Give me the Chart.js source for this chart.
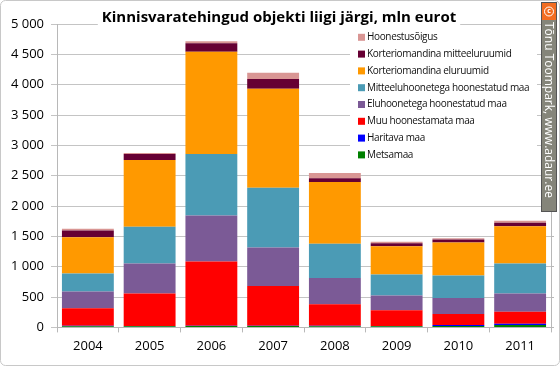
<!DOCTYPE html>
<html>
<head>
<meta charset="utf-8">
<script src="https://cdn.jsdelivr.net/npm/chart.js@4/dist/chart.umd.min.js"></script>
<style>
    html, body { margin: 0; padding: 0; background: #fff; }
    #wrap { width: 560px; height: 366px; position: relative; }
</style>
</head>
<body>
<div id="wrap"><canvas id="chart" width="560" height="366"></canvas></div>
<script>

/*
=================================
DATA
=================================
*/

const years = ["2004", "2005", "2006", "2007", "2008", "2009", "2010", "2011"];

const metsamaa          = [20, 18, 22, 22, 20, 20, 25, 40];
const haritavaMaa       = [8, 5, 6, 6, 6, 5, 15, 20];
const muuHoonestamata   = [286, 534, 1057, 656, 354, 256, 181, 199];
const eluhoonetega      = [276, 495, 760, 633, 436, 243, 264, 298];
const mitteeluhoonetega = [297, 606, 1013, 986, 562, 347, 369, 495];
const kortEluruumid     = [600, 1101, 1685, 1629, 1018, 467, 545, 617];
const kortMitteelu      = [110, 99, 139, 160, 61, 50, 50, 55];
const hoonestusoigus    = [28, 17, 33, 104, 88, 22, 21, 33];

const yTicks = [0, 500, 1000, 1500, 2000, 2500, 3000, 3500, 4000, 4500, 5000];

const titleText = "Kinnisvaratehingud objekti liigi järgi, mln eurot";
const creditText = "Tõnu Toompark, www.adaur.ee";

const FONT = "'Open Sans', sans-serif";

function fmt(v){
    return String(v).replace(/\B(?=(\d{3})+(?!\d))/g, " ");
}

/*
=================================
PLUGINS
=================================
*/

const frame = {
    id: "frame",
    beforeDraw(chart){
        const ctx = chart.ctx;
        ctx.save();
        ctx.fillStyle = "#fff";
        ctx.fillRect(0, 0, chart.width, chart.height);
        ctx.strokeStyle = "#c8c8c8";
        ctx.lineWidth = 1;
        ctx.beginPath();
        ctx.roundRect(0.5, 0.5, chart.width - 1, chart.height - 1, 5);
        ctx.stroke();
        ctx.restore();
    }
};

const overlay = {
    id: "overlay",
    afterDraw(chart){
        const ctx = chart.ctx;
        ctx.save();

        // title
        ctx.font = "bold 15px " + FONT;
        const tw = ctx.measureText(titleText).width;
        const tx = 279;
        ctx.fillStyle = "#fff";
        ctx.fillRect(tx - tw / 2 - 4, 4, tw + 8, 26);
        ctx.fillStyle = "#000";
        ctx.textAlign = "center";
        ctx.textBaseline = "middle";
        ctx.fillText(titleText, tx, 17.5);

        // legend (top of stack first)
        const items = chart.data.datasets.slice().reverse();
        ctx.fillStyle = "#fff";
        ctx.fillRect(350, 29, 187, 136);
        ctx.font = "10px " + FONT;
        ctx.letterSpacing = "-0.35px";
        ctx.textAlign = "left";
        items.forEach((ds, i) => {
            const y = 37.3 + i * 16.8;
            ctx.fillStyle = ds.backgroundColor;
            ctx.fillRect(358, y - 3.5, 7, 7);
            ctx.fillStyle = "#111";
            ctx.fillText(ds.label, 367, y);
        });
        ctx.letterSpacing = "0px";

        // credit box
        ctx.fillStyle = "#85857a";
        ctx.fillRect(541.5, 2.5, 15, 209);
        ctx.strokeStyle = "#555";
        ctx.lineWidth = 1;
        ctx.strokeRect(541.5, 2.5, 15, 209);
        ctx.fillStyle = "#f26d21";
        ctx.fillRect(542, 3, 14, 17);
        ctx.strokeStyle = "#fff";
        ctx.beginPath();
        ctx.arc(549, 11.5, 4.5, 0, Math.PI * 2);
        ctx.stroke();
        ctx.fillStyle = "#fff";
        ctx.font = "bold 7px " + FONT;
        ctx.textAlign = "center";
        ctx.fillText("c", 549, 11);
        ctx.translate(549, 22);
        ctx.rotate(Math.PI / 2);
        ctx.font = "12px " + FONT;
        ctx.textAlign = "left";
        ctx.fillStyle = "#fff";
        ctx.fillText(creditText, 0, 0.5);
        ctx.restore();
    }
};

/*
=================================
CHART
=================================
*/

function makeSet(label, data, color){
    return {
        label: label,
        data: data,
        backgroundColor: color,
        borderWidth: 0,
        barPercentage: 0.84,
        categoryPercentage: 1
    };
}

new Chart(document.getElementById("chart"), {

    type: "bar",

    data: {
        labels: years,
        datasets: [
            makeSet("Metsamaa", metsamaa, "#008000"),
            makeSet("Haritava maa", haritavaMaa, "#0000ff"),
            makeSet("Muu hoonestamata maa", muuHoonestamata, "#ff0000"),
            makeSet("Eluhoonetega hoonestatud maa", eluhoonetega, "#7b5a96"),
            makeSet("Mitteeluhoonetega hoonestatud maa", mitteeluhoonetega, "#4b9bb5"),
            makeSet("Korteriomandina eluruumid", kortEluruumid, "#ff9900"),
            makeSet("Korteriomandina mitteeluruumid", kortMitteelu, "#660033"),
            makeSet("Hoonestusõigus", hoonestusoigus, "#d99694")
        ]
    },

    options: {
        responsive: false,
        animation: false,
        layout: {
            padding: { top: 24, right: 6, bottom: 6, left: 0 }
        },
        plugins: {
            legend: { display: false },
            title: { display: false },
            tooltip: { enabled: false }
        },
        scales: {
            x: {
                stacked: true,
                grid: {
                    drawOnChartArea: false,
                    tickLength: 5,
                    color: "#b8b8b8"
                },
                border: { color: "#b8b8b8" },
                ticks: {
                    padding: 6,
                    color: "#000",
                    font: { family: FONT, size: 13 }
                }
            },
            y: {
                stacked: true,
                min: 0,
                max: 5000,
                afterBuildTicks(scale){
                    scale.ticks = yTicks.map(v => ({ value: v }));
                },
                afterFit(scale){
                    scale.width = 57;
                },
                grid: {
                    color: "#c4c4c4",
                    tickLength: 6
                },
                border: { color: "#b8b8b8" },
                ticks: {
                    padding: 7,
                    color: "#000",
                    font: { family: FONT, size: 13 },
                    callback: v => fmt(v)
                }
            },
            y2: {
                position: "right",
                min: 0,
                max: 5000,
                afterBuildTicks(scale){
                    scale.ticks = yTicks.map(v => ({ value: v }));
                },
                afterFit(scale){
                    scale.width = 3;
                },
                grid: {
                    drawOnChartArea: false,
                    color: "#b8b8b8",
                    tickLength: 3
                },
                border: { color: "#b8b8b8" },
                ticks: { display: false }
            }
        }
    },

    plugins: [frame, overlay]
});

</script>
</body>
</html>
